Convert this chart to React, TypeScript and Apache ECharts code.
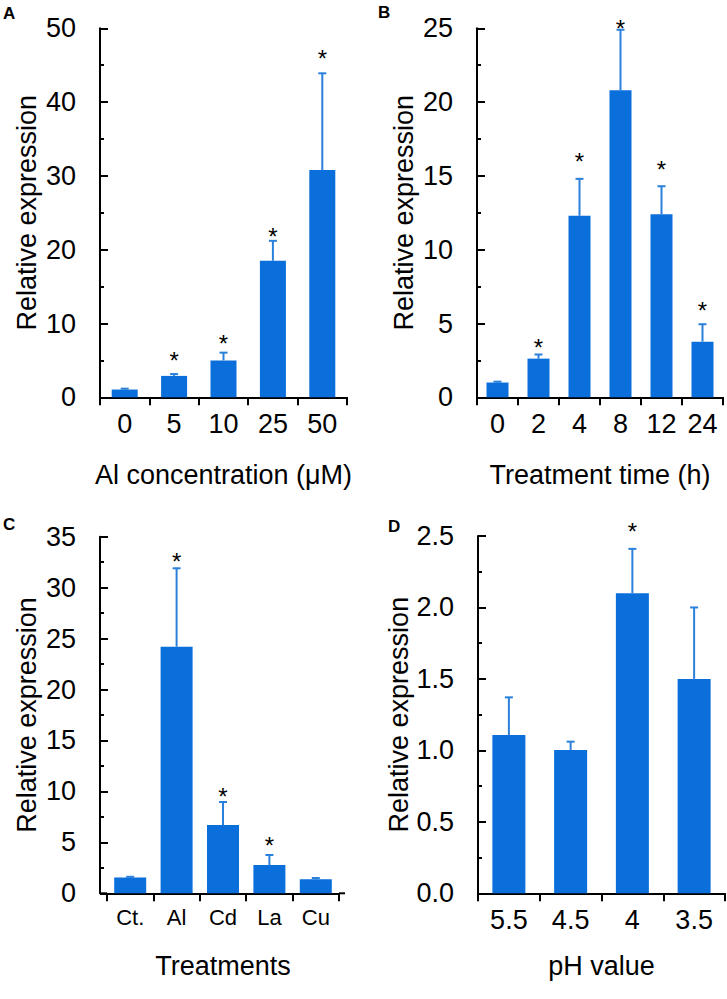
import React, { useEffect, useRef } from 'react';
import * as echarts from 'echarts';

const FONT = '"Liberation Sans", Arial, Helvetica, sans-serif';
const BAR_COLOR = '#0a6edb';
const ERR_COLOR = '#2a80da';

// Panel A: Al concentration
const aCategories = ['0', '5', '10', '25', '50'];
const aValues = [1.05, 2.9, 5.0, 18.5, 30.8];
const aErrors = [0.12, 0.25, 1.05, 2.7, 13.1];
const aStars = [null, 5.6, 8.0, 22.4, 46.6];
const aTicks = { max: 50, interval: 10 };

// Panel B: treatment time
const bCategories = ['0', '2', '4', '8', '12', '24'];
const bValues = [1.0, 2.62, 12.3, 20.8, 12.4, 3.77];
const bErrors = [0.06, 0.28, 2.5, 4.1, 1.9, 1.18];
const bStars = [null, 3.7, 16.3, 25.3, 15.8, 6.2];
const bTicks = { max: 25, interval: 5 };

// Panel C: treatments
const cCategories = ['Ct.', 'Al', 'Cd', 'La', 'Cu'];
const cValues = [1.54, 24.2, 6.7, 2.78, 1.37];
const cErrors = [0.08, 7.7, 2.26, 0.98, 0.13];
const cStars = [null, 33.1, 10.0, 5.2, null];
const cTicks = { max: 35, interval: 5 };

// Panel D: pH value
const dCategories = ['5.5', '4.5', '4', '3.5'];
const dValues = [1.108, 1.003, 2.1, 1.5];
const dErrors = [0.263, 0.058, 0.31, 0.5];
const dStars = [null, null, 2.565, null];
const dTicks = { max: 2.5, interval: 0.5 };

const yTitle = 'Relative expression';
const xTitles = ['Al concentration (\u03bcM)', 'Treatment time (h)', 'Treatments', 'pH value'];
const panelLetters = ['A', 'B', 'C', 'D'];

const data = [
  { cats: aCategories, vals: aValues, errs: aErrors, stars: aStars, ticks: aTicks, decimals: 0 },
  { cats: bCategories, vals: bValues, errs: bErrors, stars: bStars, ticks: bTicks, decimals: 0 },
  { cats: cCategories, vals: cValues, errs: cErrors, stars: cStars, ticks: cTicks, decimals: 0 },
  { cats: dCategories, vals: dValues, errs: dErrors, stars: dStars, ticks: dTicks, decimals: 1 },
];

// layout (pixels)
const layout = [
  { left: 100, top: 28.3, width: 247, height: 369, barWidth: 26, yOffset: 0, xFont: 27, nameGap: 64, letter: [3, 5] },
  { left: 477, top: 28.3, width: 246, height: 369, barWidth: 22, yOffset: 0, xFont: 27, nameGap: 64, letter: [378, 4] },
  { left: 107, top: 536.7, width: 232, height: 356.6, barWidth: 32, yOffset: 7, xFont: 22, nameGap: 59, letter: [3, 516] },
  { left: 478, top: 536, width: 247, height: 357.3, barWidth: 33, yOffset: 0, xFont: 27, nameGap: 59, letter: [388, 518] },
];

export default function App() {
  const ref = useRef<HTMLDivElement>(null);
  useEffect(() => {
    if (!ref.current) return;
    const chart = echarts.init(ref.current, undefined, { renderer: 'svg' });
    const grids: any[] = [];
    const xAxes: any[] = [];
    const yAxes: any[] = [];
    const series: any[] = [];
    const graphics: any[] = [];
    data.forEach((p, i) => {
      const L = layout[i];
      grids.push({ left: L.left, top: L.top, width: L.width, height: L.height, containLabel: false });
      xAxes.push({
        type: 'category',
        gridIndex: i,
        data: p.cats,
        boundaryGap: true,
        name: xTitles[i],
        nameLocation: 'middle',
        nameGap: L.nameGap,
        nameTextStyle: { fontFamily: FONT, fontSize: 27, color: '#000' },
        axisLine: { lineStyle: { color: '#000', width: 2 } },
        axisTick: { show: true, inside: false, length: 8, alignWithLabel: false, lineStyle: { color: '#000', width: 2 } },
        axisLabel: { fontFamily: FONT, fontSize: L.xFont, color: '#000', margin: 13, interval: 0 },
        splitLine: { show: false },
      });
      yAxes.push({
        type: 'value',
        gridIndex: i,
        min: 0,
        max: p.ticks.max,
        interval: p.ticks.interval,
        offset: L.yOffset,
        name: yTitle,
        nameLocation: 'middle',
        nameGap: 60,
        nameTextStyle: { fontFamily: FONT, fontSize: 27, color: '#000' },
        axisLine: { show: true, lineStyle: { color: '#000', width: 2 } },
        axisTick: { show: true, inside: true, length: 8, lineStyle: { color: '#000', width: 2 } },
        minorTick: { show: true, splitNumber: 2, length: 4, lineStyle: { color: '#000', width: 2 } },
        axisLabel: {
          fontFamily: FONT,
          fontSize: 27,
          color: '#000',
          margin: 24,
          formatter: (v: number) => v.toFixed(p.decimals),
        },
        splitLine: { show: false },
      });
      series.push({
        type: 'bar',
        xAxisIndex: i,
        yAxisIndex: i,
        data: p.vals,
        barWidth: L.barWidth,
        itemStyle: { color: BAR_COLOR },
        z: 2,
      });
      const stars = p.stars;
      series.push({
        type: 'custom',
        xAxisIndex: i,
        yAxisIndex: i,
        z: 3,
        clip: false,
        data: p.vals.map((v, j) => [j, v, p.errs[j]]),
        renderItem: (params: any, api: any) => {
          const x = api.value(0);
          const v = api.value(1);
          const e = api.value(2);
          const base = api.coord([x, v]);
          const top = api.coord([x, v + e]);
          const children: any[] = [
            {
              type: 'line',
              shape: { x1: base[0], y1: base[1], x2: top[0], y2: top[1] },
              style: { stroke: ERR_COLOR, lineWidth: 2 },
            },
            {
              type: 'line',
              shape: { x1: top[0] - 4, y1: top[1], x2: top[0] + 4, y2: top[1] },
              style: { stroke: ERR_COLOR, lineWidth: 2 },
            },
          ];
          const s = stars[params.dataIndex];
          if (s !== null && s !== undefined) {
            const sp = api.coord([x, s]);
            children.push({
              type: 'text',
              style: {
                text: '*',
                x: sp[0],
                y: sp[1] + 5,
                align: 'center',
                verticalAlign: 'middle',
                fontFamily: FONT,
                fontSize: 24,
                fill: '#000',
              },
            });
          }
          return { type: 'group', children };
        },
      });
      graphics.push({
        type: 'text',
        left: L.letter[0],
        top: L.letter[1],
        style: { text: panelLetters[i], fontFamily: FONT, fontSize: 17, fontWeight: 'bold', fill: '#000' },
      });
      if (L.yOffset > 0) {
        // extend the x-axis baseline to meet the offset y-axis and slightly past the last category
        const yLine = L.top + L.height;
        graphics.push({
          type: 'line',
          shape: { x1: L.left - L.yOffset, y1: yLine, x2: L.left, y2: yLine },
          style: { stroke: '#000', lineWidth: 2 },
        });
        graphics.push({
          type: 'line',
          shape: { x1: L.left + L.width, y1: yLine, x2: L.left + L.width + 6, y2: yLine },
          style: { stroke: '#000', lineWidth: 2 },
        });
      }
    });

    chart.setOption({
      animation: false,
      backgroundColor: '#fff',
      grid: grids,
      xAxis: xAxes,
      yAxis: yAxes,
      series,
      graphic: graphics,
    });
    return () => chart.dispose();
  }, []);
  return <div ref={ref} style={{ position: 'absolute', left: 0, top: 0, width: 727, height: 999 }} />;
}
